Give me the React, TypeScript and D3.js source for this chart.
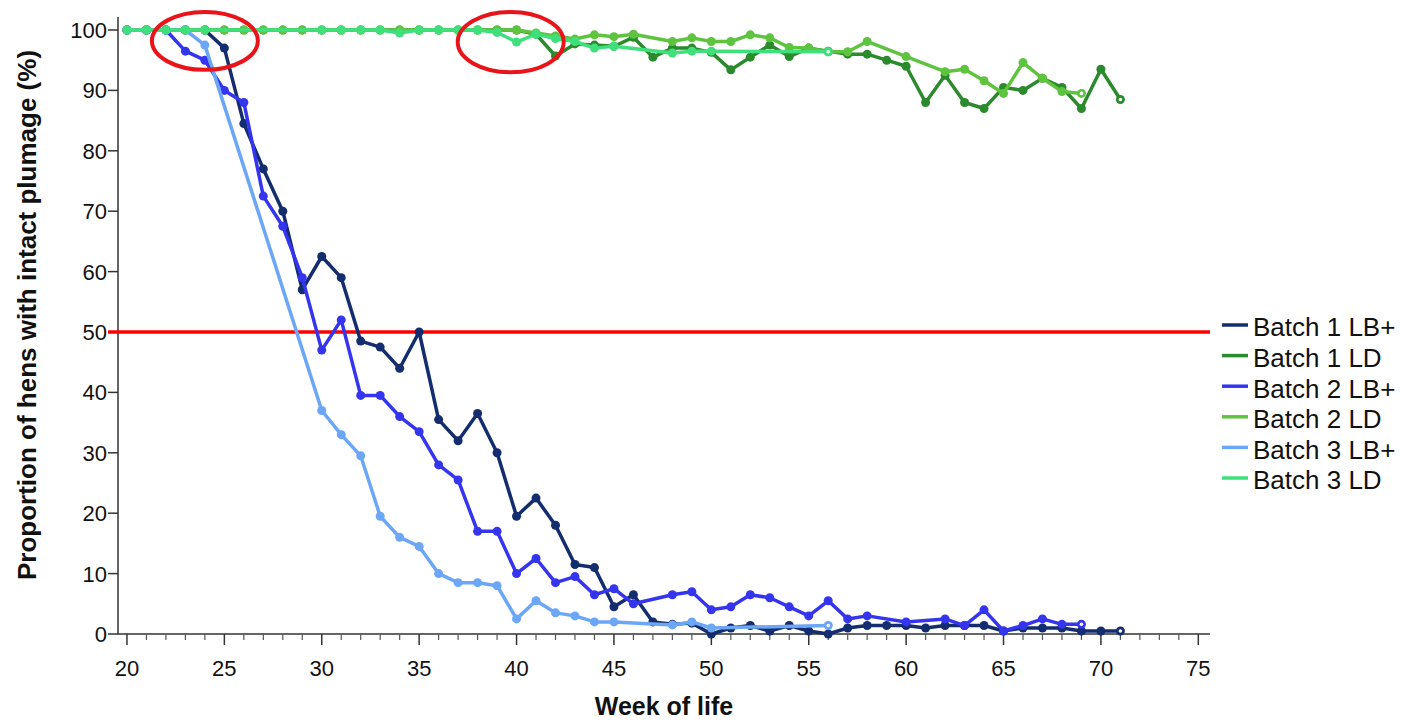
import React from 'react';
import * as d3 from 'd3';

// ---------- data ----------
const weeks = [20,21,22,23,24,25,26,27,28,29,30,31,32,33,34,35,36,37,38,39,40,41,42,43,44,45,46,47,48,49,50,51,52,53,54,55,56,57,58,59,60,61,62,63,64,65,66,67,68,69,70,71];

const batch1LB = [100,100,100,100,100,97,84.5,77,70,57,62.5,59,48.5,47.5,44,50,35.5,32,36.5,30,19.5,22.5,18,11.5,11,4.5,6.5,2,1.6,1.8,0,1,1.4,0.5,1.4,0.5,0,1,1.4,1.4,1.4,1,1.4,1.4,1.4,0.5,1,1,1,0.5,0.5,0.5];
const batch1LD = [100,100,100,100,100,100,100,100,100,100,100,100,100,100,100,100,100,100,100,100,100,99.3,95.7,97.7,97.5,97.3,98.8,95.5,97,97,96.3,93.4,95.5,97.5,95.6,97,96.5,96,96,95,94,88,92.5,88,87,90.5,90,92,90.5,87,93.5,88.5];
const batch2LB = [100,100,100,96.5,95,90,88,72.5,67.5,59,47,52,39.5,39.5,36,33.5,28,25.5,17,17,10,12.5,8.5,9.5,6.5,7.5,5,null,6.5,7,4,4.5,6.5,6,4.5,3,5.5,2.5,3,null,2,null,2.5,1.4,4,0.5,1.4,2.5,1.6,1.6,null,null];
const batch2LD = [100,100,100,100,100,100,100,100,100,100,100,100,100,100,100,100,100,100,100,100,100,99.5,99,98.5,99.2,98.9,99.3,null,98.1,98.7,98.1,98.1,99.2,98.7,97.1,97,96.4,96.4,98.1,null,95.6,null,93.1,93.5,91.6,89.5,94.6,92,89.8,89.5,null,null];
const batch3LB = [100,100,100,100,97.5,null,null,null,null,null,37,33,29.5,19.5,16,14.5,10,8.5,8.5,8,2.5,5.5,3.5,3,2,2,null,null,1.5,2,1,null,null,null,null,null,1.4,null,null,null,null,null,null,null,null,null,null,null,null,null,null,null];
const batch3LD = [100,100,100,100,100,null,null,null,null,null,100,100,100,100,99.5,100,100,100,100,99.6,98,99.3,98.6,98.1,97,97.3,null,null,96.2,96.5,96.5,null,null,null,null,null,96.4,null,null,null,null,null,null,null,null,null,null,null,null,null,null,null];

const seriesLabels = ['Batch 1 LB+', 'Batch 1 LD', 'Batch 2 LB+', 'Batch 2 LD', 'Batch 3 LB+', 'Batch 3 LD'];
const seriesValues = [batch1LB, batch1LD, batch2LB, batch2LD, batch3LB, batch3LD];
const seriesColors = ['#142d6e', '#2b8a2b', '#3535f0', '#5ec43f', '#6ca6f7', '#3fe07c'];

const xMajorTicks = [20,25,30,35,40,45,50,55,60,65,70,75];
const yTicks = [0,10,20,30,40,50,60,70,80,90,100];
const thresholdValue = 50;

// annotation ellipses: centre week, centre value, half-width (weeks), half-height (%)
const circleWeeks = [24, 39.7];
const circleValues = [98.2, 98];
const circleHalfWeeks = [2.72, 2.72];
const circleHalfValues = [4.8, 5.0];

// ---------- layout ----------
const W = 1403, H = 724;
const plotLeft = 118, plotRight = 1210, plotTop = 17, plotBottom = 634;
const FONT = '"Liberation Sans", Arial, sans-serif';

export default function App() {
  const x = d3.scaleLinear().domain([19.54, 75.6]).range([plotLeft, plotRight]);
  const y = d3.scaleLinear().domain([0, 100]).range([plotBottom, 30]);

  const line = d3.line<[number, number]>().x(d => x(d[0])).y(d => y(d[1]));

  const series = seriesValues.map((vals, i) => {
    const pts = weeks.map((w, j) => [w, vals[j]] as [number, number | null])
      .filter(p => p[1] !== null) as [number, number][];
    return { label: seriesLabels[i], color: seriesColors[i], pts };
  });

  const minorTicks = d3.range(20, 76).filter(v => v % 5 !== 0);

  return (
    <svg width={W} height={H} style={{ position: 'absolute', left: 0, top: 0, background: '#fff' }} fontFamily={FONT}>
      <rect x={0} y={0} width={W} height={H} fill="#fff" />
      {/* axes */}
      <line x1={plotLeft} x2={plotLeft} y1={plotTop} y2={plotBottom} stroke="#333" strokeWidth={1.5} />
      <line x1={plotLeft} x2={plotRight} y1={plotBottom} y2={plotBottom} stroke="#333" strokeWidth={1.5} />
      {yTicks.map(t => (
        <g key={'y' + t}>
          <line x1={plotLeft - 10} x2={plotLeft} y1={y(t)} y2={y(t)} stroke="#333" strokeWidth={1.5} />
          <text x={plotLeft - 11} y={y(t)} dy="0.36em" textAnchor="end" fontSize={22} fill="#111">{t}</text>
        </g>
      ))}
      {xMajorTicks.map(t => (
        <g key={'x' + t}>
          <line x1={x(t)} x2={x(t)} y1={plotBottom} y2={plotBottom + 11} stroke="#333" strokeWidth={1.5} />
          <text x={x(t)} y={plotBottom + 42} textAnchor="middle" fontSize={22} fill="#111">{t}</text>
        </g>
      ))}
      {minorTicks.map(t => (
        <line key={'m' + t} x1={x(t)} x2={x(t)} y1={plotBottom} y2={plotBottom + 6} stroke="#555" strokeWidth={1.2} />
      ))}
      {/* axis titles */}
      <text x={664} y={715} textAnchor="middle" fontSize={25} fontWeight="bold" fill="#111">Week of life</text>
      <text transform={`translate(36, ${(40 + 590) / 2}) rotate(-90)`} textAnchor="middle" fontSize={26} fontWeight="bold" fill="#111">Proportion of hens with intact plumage (%)</text>

      {/* threshold */}
      <line x1={plotLeft - 10} x2={plotRight} y1={y(thresholdValue)} y2={y(thresholdValue)} stroke="#ff0000" strokeWidth={3.5} />

      {/* series */}
      {series.map(s => (
        <g key={s.label}>
          <path d={line(s.pts) || ''} fill="none" stroke={s.color} strokeWidth={3.5} strokeLinejoin="round" />
          {s.pts.map((p, k) => (
            <circle key={k} cx={x(p[0])} cy={y(p[1])} r={4.5} fill={s.color} />
          ))}
          {s.pts.length > 0 && (
            <circle cx={x(s.pts[s.pts.length - 1][0])} cy={y(s.pts[s.pts.length - 1][1])} r={1.8} fill="#fff" />
          )}
        </g>
      ))}

      {/* annotations */}
      {circleWeeks.map((w, i) => {
        const cx = x(w), cy = y(circleValues[i]);
        const rx = x(w + circleHalfWeeks[i]) - cx;
        const ry = cy - y(circleValues[i] + circleHalfValues[i]);
        return <ellipse key={'c' + i} cx={cx} cy={cy} rx={rx} ry={ry} fill="none" stroke="#e8141a" strokeWidth={4} />;
      })}

      {/* legend */}
      {series.map((s, i) => {
        const ly = 327 + i * 30.6;
        return (
          <g key={'lg' + i}>
            <line x1={1222} x2={1248} y1={ly - 2} y2={ly - 2} stroke={s.color} strokeWidth={3.5} />
            <text x={1253} y={ly} dy="0.36em" fontSize={26} fill="#111">{s.label}</text>
          </g>
        );
      })}
    </svg>
  );
}
